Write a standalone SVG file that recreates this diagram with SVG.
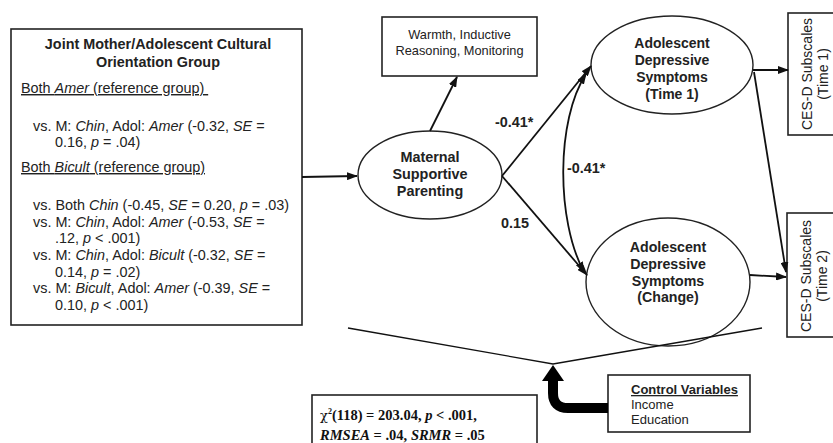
<svg xmlns="http://www.w3.org/2000/svg" width="833" height="443" viewBox="0 0 833 443">
<defs>
<style>
.box{fill:#fff;stroke:#222;stroke-width:1.6}
.ell{fill:#fff;stroke:#222;stroke-width:1.4}
.t{font-family:"Liberation Sans",Arial,sans-serif;fill:#222}
.lb{font-size:14.4px}
.b{font-weight:bold}
.i{font-style:italic}
.u{text-decoration:underline}
.c{text-anchor:middle}
.conn{fill:none;stroke:#111;stroke-width:1.8}
.ser{font-family:"Liberation Serif","Times New Roman",serif;fill:#111;font-weight:bold;font-size:14.5px}
</style>
<marker id="ah" markerUnits="userSpaceOnUse" markerWidth="11" markerHeight="8" refX="10" refY="4" orient="auto-start-reverse">
<path d="M0,0 L11,4 L0,8 z" fill="#111"/>
</marker>
</defs>
<rect width="833" height="443" fill="#fff"/>

<g id="cultural-group">
<rect class="box" x="11" y="29" width="291" height="296"/>
<text class="t lb b c" x="158" y="49">Joint Mother/Adolescent Cultural</text>
<text class="t lb b c" x="158" y="67">Orientation Group</text>
<text class="t lb u" x="21" y="93" xml:space="preserve">Both <tspan class="i">Amer</tspan> (reference group) </text>
<text class="t lb" x="33" y="131">vs. M: <tspan class="i">Chin</tspan>, Adol: <tspan class="i">Amer</tspan> (-0.32, <tspan class="i">SE</tspan> =</text>
<text class="t lb" x="55" y="147">0.16, <tspan class="i">p</tspan> = .04)</text>
<text class="t lb u" x="21" y="172">Both <tspan class="i">Bicult</tspan> (reference group)</text>
<text class="t lb" x="33" y="210">vs. Both <tspan class="i">Chin</tspan> (-0.45, <tspan class="i">SE</tspan> = 0.20, <tspan class="i">p</tspan> = .03)</text>
<text class="t lb" x="33" y="227">vs. M: <tspan class="i">Chin</tspan>, Adol: <tspan class="i">Amer</tspan> (-0.53, <tspan class="i">SE</tspan> =</text>
<text class="t lb" x="55" y="243">.12, <tspan class="i">p</tspan> &lt; .001)</text>
<text class="t lb" x="33" y="260">vs. M: <tspan class="i">Chin</tspan>, Adol: <tspan class="i">Bicult</tspan> (-0.32, <tspan class="i">SE</tspan> =</text>
<text class="t lb" x="55" y="277">0.14, <tspan class="i">p</tspan> = .02)</text>
<text class="t lb" x="33" y="293">vs. M: <tspan class="i">Bicult</tspan>, Adol: <tspan class="i">Amer</tspan> (-0.39, <tspan class="i">SE</tspan> =</text>
<text class="t lb" x="55" y="310">0.10, <tspan class="i">p</tspan> &lt; .001)</text>
</g>

<g id="parenting-indicators">
<rect class="box" x="382" y="17" width="155" height="59"/>
<text class="t c" style="font-size:12.8px" x="459.5" y="39">Warmth, Inductive</text>
<text class="t c" style="font-size:12.8px" x="459.5" y="55">Reasoning, Monitoring</text>
</g>

<g id="maternal-parenting">
<ellipse class="ell" cx="430" cy="175" rx="72" ry="44"/>
<text class="t lb b c" x="430" y="162">Maternal</text>
<text class="t lb b c" x="430" y="179">Supportive</text>
<text class="t lb b c" x="430" y="196">Parenting</text>
</g>

<g id="depressive-time1">
<ellipse class="ell" cx="672" cy="65" rx="81" ry="49"/>
<text class="t b c" style="font-size:14px" x="672" y="48">Adolescent</text>
<text class="t b c" style="font-size:14px" x="672" y="65">Depressive</text>
<text class="t b c" style="font-size:14px" x="672" y="82">Symptoms</text>
<text class="t b c" style="font-size:14px" x="672" y="99">(Time 1)</text>
</g>

<g id="depressive-change">
<ellipse class="ell" cx="668" cy="282" rx="82" ry="64"/>
<text class="t b c" style="font-size:14.2px" x="668" y="252">Adolescent</text>
<text class="t b c" style="font-size:14.2px" x="668" y="269">Depressive</text>
<text class="t b c" style="font-size:14.2px" x="668" y="286">Symptoms</text>
<text class="t b c" style="font-size:14.2px" x="668" y="302">(Change)</text>
</g>

<g id="cesd-time1">
<rect class="box" x="788" y="13" width="60" height="122"/>
<text class="t c" style="font-size:14px" transform="translate(812,74) rotate(-90)">CES-D Subscales</text>
<text class="t c" style="font-size:14px" transform="translate(828,74) rotate(-90)">(Time 1)</text>
</g>

<g id="cesd-time2">
<rect class="box" x="787" y="213" width="60" height="124"/>
<text class="t c" style="font-size:14px" transform="translate(811,276) rotate(-90)">CES-D Subscales</text>
<text class="t c" style="font-size:14px" transform="translate(827,276) rotate(-90)">(Time 2)</text>
</g>

<g id="control-variables">
<rect class="box" x="608" y="375" width="142" height="57"/>
<text class="t b u" style="font-size:13px" x="631" y="394">Control Variables</text>
<text class="t" style="font-size:13px" x="631" y="409">Income</text>
<text class="t" style="font-size:13px" x="631" y="424">Education</text>
</g>

<g id="fit-statistics">
<rect class="box" x="312" y="395" width="225" height="55"/>
<text class="ser" x="320" y="420"><tspan font-weight="normal" font-family="'DejaVu Serif',serif" font-size="13">χ</tspan><tspan font-size="8" dy="-6">2</tspan><tspan dy="6">(118) = 203.04, </tspan><tspan class="i">p</tspan> &lt; .001,</text>
<text class="ser" x="320" y="440"><tspan class="i">RMSEA</tspan> = .04, <tspan class="i">SRMR</tspan> = .05</text>
</g>

<g id="connectors">
<line class="conn" x1="302" y1="177" x2="357" y2="176" marker-end="url(#ah)"/>
<line class="conn" x1="430" y1="131" x2="457" y2="77" marker-end="url(#ah)"/>
<line class="conn" x1="502" y1="176" x2="591" y2="66" marker-end="url(#ah)"/>
<line class="conn" x1="502" y1="176" x2="587" y2="275" marker-end="url(#ah)"/>
<path class="conn" d="M586,74 C556,120 556,220 584,272" marker-start="url(#ah)" marker-end="url(#ah)"/>
<line class="conn" x1="753" y1="70" x2="788" y2="70" marker-end="url(#ah)"/>
<line class="conn" x1="754" y1="72" x2="786" y2="272" marker-end="url(#ah)"/>
<line class="conn" x1="750" y1="275" x2="786" y2="277" marker-end="url(#ah)"/>
<polyline fill="none" stroke="#111" stroke-width="1.3" points="348,328 553,364 762,328"/>
<path d="M608,408 H568 Q553,408 553,393 V380" fill="none" stroke="#000" stroke-width="10"/>
<polygon points="542,381 564,381 553,365" fill="#000"/>
<text class="t lb b" x="495" y="127">-0.41*</text>
<text class="t lb b" x="567" y="173">-0.41*</text>
<text class="t lb b" x="501" y="228">0.15</text>
</g>
</svg>
